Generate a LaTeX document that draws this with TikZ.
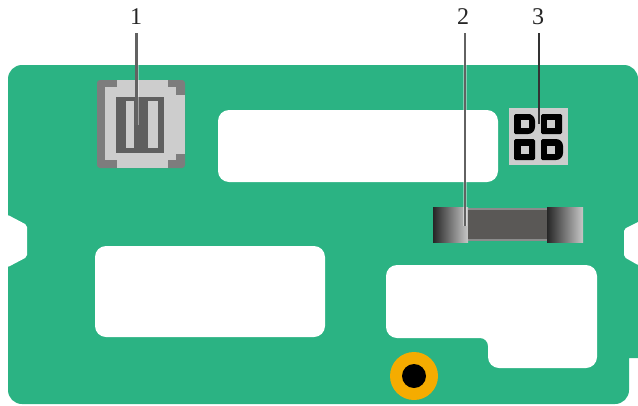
\documentclass[tikz,border=0pt]{standalone}
\usepackage{fontspec}
\setmainfont{Liberation Serif}
\definecolor{board}{HTML}{2BB383}
\definecolor{leadc}{HTML}{626262}
\definecolor{connlight}{HTML}{CDCDCD}
\definecolor{conndark}{HTML}{7D7D7D}
\definecolor{pindark}{HTML}{5F5F5F}
\definecolor{orangering}{HTML}{F5AC00}
\definecolor{fusedark}{HTML}{5A5856}
\tikzset{
 cutout/.style={fill=white,rounded corners=11pt},
 calloutlabel/.style={inner sep=0pt,font=\fontsize{24pt}{24pt}\selectfont,text=black!85},
 leadhalo/.style={draw=white,opacity=.4,line width=4pt},
 leadline/.style={draw=leadc,line width=2.1pt},
 notch/.style={fill=white,rounded corners=2pt},
 padD/.style={fill=black,rounded corners=1.5pt},
}
\begin{document}
\begin{tikzpicture}[x=1pt,y=-1pt]
\useasboundingbox (0,0) rectangle (638,405);
\fill[white] (0,0) rectangle (638,405);
% board
\fill[board,rounded corners=14pt] (8,404) -- (8,65) -- (638,65) [sharp corners] -- (638,358) -- (629,358) [rounded corners=14pt] -- (629,404) -- cycle;
\fill[notch] (-6,212) -- (8,215) -- (27,225) -- (27,257) -- (8,267) -- (-6,270) -- cycle;
\fill[notch] (646,218) -- (638,222) -- (624,229) -- (624,257) -- (638,265) -- (646,268) -- cycle;
% cutouts
\fill[cutout] (218,110) rectangle (498,182);
\fill[cutout] (95,246) rectangle (325,337);
\fill[cutout] (386,265) -- (597,265) -- (597,368) -- (488,368) [rounded corners=8pt] -- (488,338) [rounded corners=11pt] -- (386,338) -- cycle;
% connector 1
\fill[conndark,rounded corners=3pt] (97,80) rectangle (185,168);
\fill[connlight] (105,87) rectangle (176,160);
\fill[connlight] (117,80) rectangle (168,168);
\fill[connlight] (176,95) rectangle (185,154);
\fill[pindark] (116,97) rectangle (164,153);
\fill[connlight] (126,101) rectangle (134,148);
\fill[connlight] (148,101) rectangle (158,148);
% connector 3
\fill[connlight] (509,108) rectangle (568,165);
\fill[padD] (514,114) -- (529,114) [rounded corners=7pt] -- (535,114) -- (535,134) [rounded corners=1.5pt] -- (514,134) -- cycle;
\fill[padD] (541,114) rectangle (562,134);
\fill[padD] (514,139) rectangle (535,160);
\fill[padD] (541,139) -- (555,139) [rounded corners=7pt] -- (563,139) -- (563,160) [rounded corners=1.5pt] -- (541,160) -- cycle;
\foreach \x/\y in {521/120,547/120,521/146,547/146}{
 \fill[connlight] (\x,\y) rectangle ++(8,8);
}
% component 2
\fill[black!45] (468,208) rectangle (547,241);
\shade[left color=black!85,right color=black!22] (433,207) rectangle (468,242);
\fill[fusedark] (468,210) rectangle (547,239);
\shade[left color=black!85,right color=black!22] (547,207) rectangle (583,242);
% standoff
\fill[orangering] (414,376) circle (24);
\fill[black] (414,376) circle (12);
% labels
\node[calloutlabel] (n1) at (136,17) {1};
\node[calloutlabel] (n2) at (463,17) {2};
\node[calloutlabel] (n3) at (538,17) {3};
\coordinate (s1) at (136.5,33);
\coordinate (s2) at (465,33);
\coordinate (s3) at (539,33);
\coordinate (e1) at (136.5,125);
\coordinate (e2) at (465,226);
\coordinate (e3) at (539,124);
\draw[leadhalo] (136.5,65) -- (e1);
\draw[leadhalo] (465,65) -- (e2);
\draw[leadline] (s1) -- (e1);
\draw[leadline] (s2) -- (e2);
\draw[leadline,draw=black!80] (s3) -- (e3);
\end{tikzpicture}
\end{document}
